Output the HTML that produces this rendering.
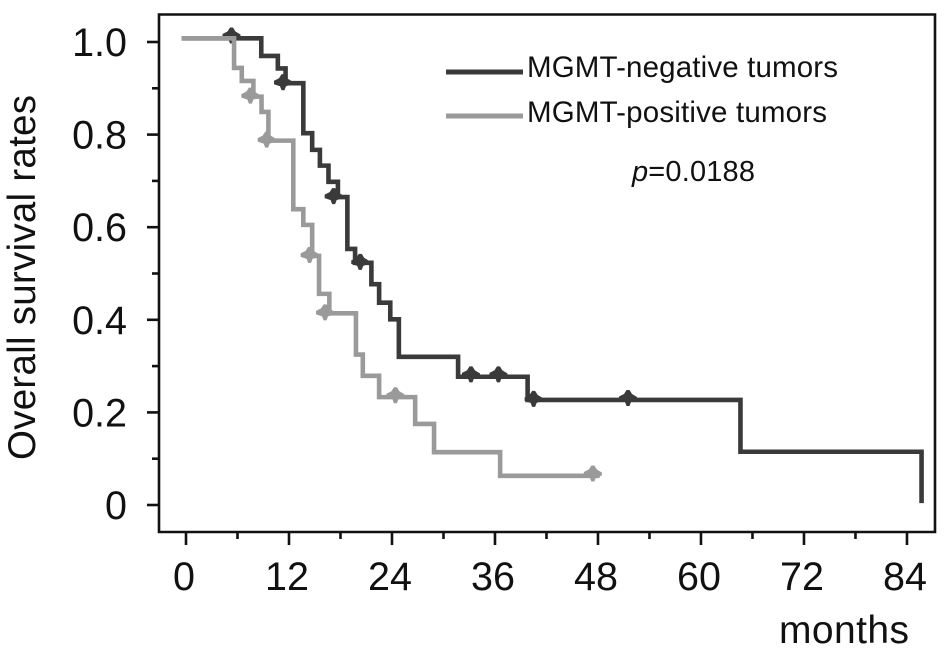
<!DOCTYPE html>
<html>
<head>
<meta charset="utf-8">
<style>
html,body{margin:0;padding:0;background:#fff;width:945px;height:654px;overflow:hidden}
svg{display:block}
text{font-family:"Liberation Sans",Arial,sans-serif;fill:#111}
</style>
</head>
<body>
<svg id="chart" width="945" height="654" viewBox="0 0 945 654" xmlns="http://www.w3.org/2000/svg">
<g id="axes"></g>
<g id="series"></g>
<text transform="translate(35,460) rotate(-90)" font-size="38.5" textLength="365" lengthAdjust="spacing">Overall survival rates</text>
<text x="779" y="643" font-size="39" textLength="130" lengthAdjust="spacing">months</text>
<line x1="446" x2="523" y1="72" y2="72" stroke="#3a3a3a" stroke-width="5"/>
<text x="527" y="77" font-size="29.5" textLength="311" lengthAdjust="spacing">MGMT-negative tumors</text>
<line x1="446" x2="523" y1="116" y2="116" stroke="#9a9a9a" stroke-width="5"/>
<text x="527" y="122" font-size="29.5" textLength="300" lengthAdjust="spacing">MGMT-positive tumors</text>
<text x="632" y="181" font-size="29" textLength="123" lengthAdjust="spacing"><tspan font-style="italic">p</tspan>=0.0188</text>
</svg>
<script>
const xMajorTicks = [0, 12, 24, 36, 48, 60, 72, 84];
const xMinorTicks = [6, 18, 30, 42, 54, 66, 78];
const yMajorTicks = [0, 0.2, 0.4, 0.6, 0.8, 1.0];
const yMajorLabels = ['0', '0.2', '0.4', '0.6', '0.8', '1.0'];
const yMinorTicks = [0.1, 0.3, 0.5, 0.7, 0.9];

const negativeTimes = [-0.5, 8.77, 10.7, 11.6, 13.67, 14.7, 15.6, 16.6, 17.7, 18.8, 19.7, 21.6, 22.5, 23.8, 24.8, 31.7, 39.8, 64.6, 85.7];
const negativeSurvival = [1.008, 0.970, 0.943, 0.911, 0.803, 0.767, 0.733, 0.698, 0.665, 0.553, 0.523, 0.477, 0.437, 0.401, 0.320, 0.277, 0.227, 0.115, 0.004];
const negativeCensorTimes = [5.3, 11.3, 17.2, 20.3, 33.2, 36.4, 40.5, 51.5];
const negativeCensorSurvival = [1.012, 0.911, 0.665, 0.523, 0.280, 0.280, 0.227, 0.229];

const positiveTimes = [-0.5, 5.6, 6.5, 7.85, 8.8, 9.6, 12.5, 13.67, 14.7, 15.5, 16.7, 19.8, 20.6, 22.5, 26.7, 28.9, 36.6, 48.2];
const positiveSurvival = [1.008, 0.944, 0.916, 0.882, 0.849, 0.787, 0.639, 0.605, 0.538, 0.456, 0.414, 0.325, 0.279, 0.233, 0.175, 0.114, 0.063, 0.063];
const positiveCensorTimes = [7.5, 9.4, 14.4, 16.2, 24.4, 47.4];
const positiveCensorSurvival = [0.882, 0.787, 0.538, 0.414, 0.235, 0.066];

const NS = 'http://www.w3.org/2000/svg';
const xScale = function (t) { return 186 + t * 8.583; };
const yScale = function (v) { return 505 - v * 463; };
const axes = document.getElementById('axes');
const seriesGroup = document.getElementById('series');

function make(tag, attrs, parent) {
  const el = document.createElementNS(NS, tag);
  Object.keys(attrs).forEach(function (k) { el.setAttribute(k, attrs[k]); });
  parent.appendChild(el);
  return el;
}

const axisPath = make('path', { d: 'M159 14.5H935V532H159Z', fill: 'none', stroke: '#111', 'stroke-width': 2.6 }, axes);



xMajorTicks.forEach(function (t) {
  const tick = make('line', { x1: xScale(t), x2: xScale(t), y1: 532, y2: 545, stroke: '#111', 'stroke-width': 2.6 }, axes);
  
  
  const label = make('text', { x: xScale(t) - 2, y: 590, 'font-size': 39.5, 'text-anchor': 'middle' }, axes);
  
  
  label.textContent = String(t);
});
xMinorTicks.forEach(function (t) {
  const tick = make('line', { x1: xScale(t), x2: xScale(t), y1: 532, y2: 539, stroke: '#111', 'stroke-width': 2.6 }, axes);
  
  
});
yMajorTicks.forEach(function (v, i) {
  const tick = make('line', { x1: 147, x2: 159, y1: yScale(v), y2: yScale(v), stroke: '#111', 'stroke-width': 2.6 }, axes);
  
  
  const label = make('text', { x: 127, y: yScale(v) + 14, 'font-size': 39.5, 'text-anchor': 'end' }, axes);
  
  
  label.textContent = yMajorLabels[i];
});
yMinorTicks.forEach(function (v) {
  const tick = make('line', { x1: 152, x2: 159, y1: yScale(v), y2: yScale(v), stroke: '#111', 'stroke-width': 2.6 }, axes);
  
  
});

function stepPath(times, values) {
  let d = 'M' + xScale(times[0]) + ' ' + yScale(values[0]);
  for (let i = 1; i < times.length; i++) {
    d += 'H' + xScale(times[i]) + 'V' + yScale(values[i]);
  }
  return d;
}

function drawCensors(times, values, color, name) {
  times.forEach(function (t, i) {
    const cx = xScale(t);
    const cy = yScale(values[i]) - 1;
    const mark = make('path', {
      d: 'M' + (cx - 9) + ' ' + (cy - 1.5) + 'L' + (cx - 4) + ' ' + (cy - 4) + 'L' + (cx - 1.5) + ' ' + (cy - 8) + 'L' + (cx + 1.5) + ' ' + (cy - 8) + 'L' + (cx + 4) + ' ' + (cy - 4) + 'L' + (cx + 9) + ' ' + (cy - 1) + 'L' + (cx + 9) + ' ' + (cy + 2) + 'L' + (cx + 3) + ' ' + (cy + 4) + 'L' + (cx + 1.5) + ' ' + (cy + 8) + 'L' + (cx - 1.5) + ' ' + (cy + 8) + 'L' + (cx - 3) + ' ' + (cy + 4) + 'L' + (cx - 9) + ' ' + (cy + 2) + 'Z',
      fill: color
    }, seriesGroup);
    
    
  });
}

const negativeLine = make('path', { d: stepPath(negativeTimes, negativeSurvival), fill: 'none', stroke: '#3a3a3a', 'stroke-width': 4.6 }, seriesGroup);


drawCensors(negativeCensorTimes, negativeCensorSurvival, '#3a3a3a', 'mgmt-negative-censor-mark');

const positiveLine = make('path', { d: stepPath(positiveTimes, positiveSurvival), fill: 'none', stroke: '#9a9a9a', 'stroke-width': 4.6 }, seriesGroup);


drawCensors(positiveCensorTimes, positiveCensorSurvival, '#9a9a9a', 'mgmt-positive-censor-mark');
</script>
</body>
</html>
